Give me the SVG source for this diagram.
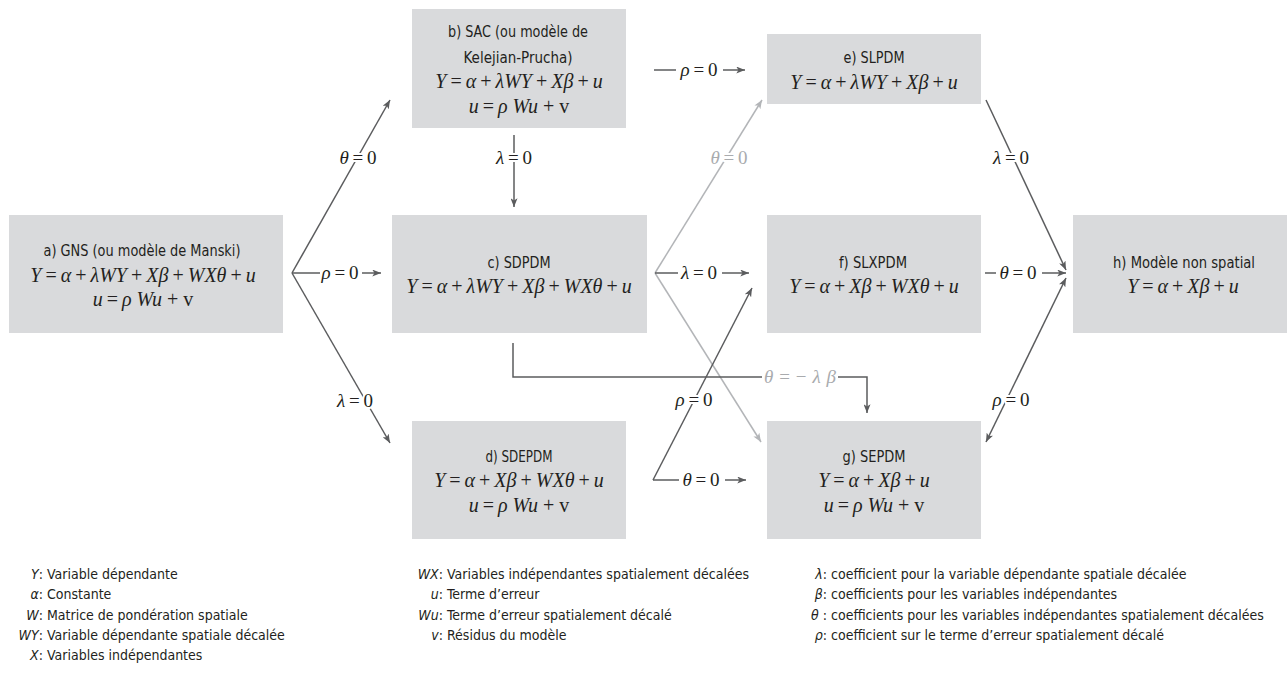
<svg xmlns="http://www.w3.org/2000/svg" width="1287" height="679" viewBox="0 0 1287 679">
<style>
.box{fill:#d9dadc}
.t{font-family:"DejaVu Sans Condensed","Liberation Sans Narrow","Liberation Sans",sans-serif;font-size:15px;fill:#231f20;text-anchor:middle}
.m{font-family:"Liberation Serif","DejaVu Serif",serif;font-size:20px;fill:#231f20;text-anchor:middle}
.i{font-style:italic}
.c{stroke:#5b5c5e;stroke-width:1.5;fill:none}
.cl{stroke:#b3b5b8;stroke-width:1.5;fill:none}
.lb{font-family:"Liberation Serif","DejaVu Serif",serif;font-size:19px;fill:#231f20;text-anchor:middle;stroke:#ffffff;stroke-width:4px;stroke-linejoin:round;paint-order:stroke}
.lbl{fill:#a9abae}
.lg{font-family:"DejaVu Sans Condensed","Liberation Sans Narrow","Liberation Sans",sans-serif;font-size:14px;fill:#231f20}
.s{text-anchor:end}
</style>
<defs>
<marker id="ad" viewBox="0 0 10 8" refX="10" refY="4" markerWidth="9" markerHeight="7" markerUnits="userSpaceOnUse" orient="auto-start-reverse"><path d="M0,0 L10,4 L0,8 L2.5,4 z" fill="#5b5c5e"/></marker>
<marker id="al" viewBox="0 0 10 8" refX="10" refY="4" markerWidth="9" markerHeight="7" markerUnits="userSpaceOnUse" orient="auto-start-reverse"><path d="M0,0 L10,4 L0,8 L2.5,4 z" fill="#b3b5b8"/></marker>
</defs>

<g id="connectors">
  <!-- a -> b -->
  <line class="c" x1="292" y1="273" x2="390" y2="100" marker-end="url(#ad)"/>
  <text class="lb" x="358" y="164"><tspan class="i">θ</tspan>&#8201;=&#8201;0</text>
  <!-- a -> c -->
  <line class="c" x1="292" y1="273" x2="320" y2="273"/>
  <text class="lb" x="340" y="279"><tspan class="i">ρ</tspan>&#8201;=&#8201;0</text>
  <line class="c" x1="362" y1="273" x2="381" y2="273" marker-end="url(#ad)"/>
  <!-- a -> d -->
  <line class="c" x1="292" y1="273" x2="390" y2="443" marker-end="url(#ad)"/>
  <text class="lb" x="355" y="407"><tspan class="i">λ</tspan>&#8201;=&#8201;0</text>
  <!-- b -> e -->
  <line class="c" x1="654" y1="70" x2="676" y2="70"/>
  <text class="lb" x="699" y="76"><tspan class="i">ρ</tspan>&#8201;=&#8201;0</text>
  <line class="c" x1="723" y1="70" x2="745" y2="70" marker-end="url(#ad)"/>
  <!-- b -> c -->
  <line class="c" x1="514" y1="135" x2="514" y2="207" marker-end="url(#ad)"/>
  <text class="lb" x="514" y="164"><tspan class="i">λ</tspan>&#8201;=&#8201;0</text>
  <!-- c -> e (light) -->
  <line class="cl" x1="655" y1="273" x2="762" y2="100" marker-end="url(#al)"/>
  <text class="lb lbl" x="729" y="164"><tspan class="i">θ</tspan>&#8201;=&#8201;0</text>
  <!-- c -> g (light) -->
  <line class="cl" x1="655" y1="273" x2="761" y2="442" marker-end="url(#al)"/>
  <!-- c -> f -->
  <line class="c" x1="655" y1="273" x2="678" y2="273"/>
  <text class="lb" x="699" y="279"><tspan class="i">λ</tspan>&#8201;=&#8201;0</text>
  <line class="c" x1="722" y1="273" x2="749" y2="273" marker-end="url(#ad)"/>
  <!-- c -> g via theta = -lambda beta -->
  <path class="c" d="M513,343 V377 H762"/>
  <text class="lb lbl" x="800" y="383" textLength="72" lengthAdjust="spacing"><tspan class="i">θ</tspan>=−<tspan class="i">λβ</tspan></text>
  <path class="c" d="M838,377 H867 V413" marker-end="url(#ad)"/>
  <!-- d -> f -->
  <line class="c" x1="653" y1="480" x2="752" y2="288" marker-end="url(#ad)"/>
  <text class="lb" x="694" y="406"><tspan class="i">ρ</tspan>&#8201;=&#8201;0</text>
  <!-- d -> g -->
  <line class="c" x1="653" y1="480" x2="679" y2="480"/>
  <text class="lb" x="701" y="486"><tspan class="i">θ</tspan>&#8201;=&#8201;0</text>
  <line class="c" x1="725" y1="480" x2="746" y2="480" marker-end="url(#ad)"/>
  <!-- e -> h -->
  <line class="c" x1="986" y1="100" x2="1066" y2="270" marker-end="url(#ad)"/>
  <text class="lb" x="1011" y="164"><tspan class="i">λ</tspan>&#8201;=&#8201;0</text>
  <!-- f -> h -->
  <line class="c" x1="985" y1="273" x2="996" y2="273"/>
  <text class="lb" x="1018" y="279"><tspan class="i">θ</tspan>&#8201;=&#8201;0</text>
  <line class="c" x1="1042" y1="273" x2="1066" y2="273" marker-end="url(#ad)"/>
  <!-- g <-> h -->
  <line class="c" x1="986" y1="442" x2="1066" y2="278" marker-start="url(#ad)" marker-end="url(#ad)"/>
  <text class="lb" x="1011" y="406"><tspan class="i">ρ</tspan>&#8201;=&#8201;0</text>
</g>

<g id="node-a">
  <rect class="box" x="9" y="215" width="274" height="118"/>
  <text class="t" x="142" y="256" textLength="197" lengthAdjust="spacingAndGlyphs">a) GNS (ou modèle de Manski)</text>
  <text class="m" x="143" y="282"><tspan class="i">Y</tspan>&#8201;=&#8201;<tspan class="i">α</tspan>&#8201;+&#8201;<tspan class="i">λWY</tspan>&#8201;+&#8201;<tspan class="i">Xβ</tspan>&#8201;+&#8201;<tspan class="i">WXθ</tspan>&#8201;+&#8201;<tspan class="i">u</tspan></text>
  <text class="m" x="143" y="306"><tspan class="i">u</tspan>&#8201;=&#8201;<tspan class="i">ρ Wu</tspan> + v</text>
</g>

<g id="node-b">
  <rect class="box" x="412" y="9" width="214" height="119"/>
  <text class="t" x="518" y="37" textLength="140" lengthAdjust="spacingAndGlyphs">b) SAC (ou modèle de</text>
  <text class="t" x="518" y="63" textLength="109" lengthAdjust="spacingAndGlyphs">Kelejian-Prucha)</text>
  <text class="m" x="519" y="88"><tspan class="i">Y</tspan>&#8201;=&#8201;<tspan class="i">α</tspan>&#8201;+&#8201;<tspan class="i">λWY</tspan>&#8201;+&#8201;<tspan class="i">Xβ</tspan>&#8201;+&#8201;<tspan class="i">u</tspan></text>
  <text class="m" x="519" y="113"><tspan class="i">u</tspan>&#8201;=&#8201;<tspan class="i">ρ Wu</tspan> + v</text>
</g>

<g id="node-c">
  <rect class="box" x="392" y="215" width="255" height="118"/>
  <text class="t" x="519" y="268" textLength="63" lengthAdjust="spacingAndGlyphs">c) SDPDM</text>
  <text class="m" x="519" y="293"><tspan class="i">Y</tspan>&#8201;=&#8201;<tspan class="i">α</tspan>&#8201;+&#8201;<tspan class="i">λWY</tspan>&#8201;+&#8201;<tspan class="i">Xβ</tspan>&#8201;+&#8201;<tspan class="i">WXθ</tspan>&#8201;+&#8201;<tspan class="i">u</tspan></text>
</g>

<g id="node-d">
  <rect class="box" x="412" y="421" width="214" height="118"/>
  <text class="t" x="519" y="462" textLength="67" lengthAdjust="spacingAndGlyphs">d) SDEPDM</text>
  <text class="m" x="519" y="487"><tspan class="i">Y</tspan>&#8201;=&#8201;<tspan class="i">α</tspan>&#8201;+&#8201;<tspan class="i">Xβ</tspan>&#8201;+&#8201;<tspan class="i">WXθ</tspan>&#8201;+&#8201;<tspan class="i">u</tspan></text>
  <text class="m" x="519" y="512"><tspan class="i">u</tspan>&#8201;=&#8201;<tspan class="i">ρ Wu</tspan> + v</text>
</g>

<g id="node-e">
  <rect class="box" x="767" y="34" width="214" height="70"/>
  <text class="t" x="874" y="63" textLength="61" lengthAdjust="spacingAndGlyphs">e) SLPDM</text>
  <text class="m" x="874" y="89"><tspan class="i">Y</tspan>&#8201;=&#8201;<tspan class="i">α</tspan>&#8201;+&#8201;<tspan class="i">λWY</tspan>&#8201;+&#8201;<tspan class="i">Xβ</tspan>&#8201;+&#8201;<tspan class="i">u</tspan></text>
</g>

<g id="node-f">
  <rect class="box" x="767" y="215" width="214" height="118"/>
  <text class="t" x="873" y="268" textLength="68" lengthAdjust="spacingAndGlyphs">f) SLXPDM</text>
  <text class="m" x="874" y="293"><tspan class="i">Y</tspan>&#8201;=&#8201;<tspan class="i">α</tspan>&#8201;+&#8201;<tspan class="i">Xβ</tspan>&#8201;+&#8201;<tspan class="i">WXθ</tspan>&#8201;+&#8201;<tspan class="i">u</tspan></text>
</g>

<g id="node-g">
  <rect class="box" x="767" y="421" width="214" height="118"/>
  <text class="t" x="874" y="462" textLength="63" lengthAdjust="spacingAndGlyphs">g) SEPDM</text>
  <text class="m" x="874" y="487"><tspan class="i">Y</tspan>&#8201;=&#8201;<tspan class="i">α</tspan>&#8201;+&#8201;<tspan class="i">Xβ</tspan>&#8201;+&#8201;<tspan class="i">u</tspan></text>
  <text class="m" x="874" y="512"><tspan class="i">u</tspan>&#8201;=&#8201;<tspan class="i">ρ Wu</tspan> + v</text>
</g>

<g id="node-h">
  <rect class="box" x="1073" y="215" width="214" height="118"/>
  <text class="t" x="1184" y="268" textLength="142" lengthAdjust="spacingAndGlyphs">h) Modèle non spatial</text>
  <text class="m" x="1183" y="293"><tspan class="i">Y</tspan>&#8201;=&#8201;<tspan class="i">α</tspan>&#8201;+&#8201;<tspan class="i">Xβ</tspan>&#8201;+&#8201;<tspan class="i">u</tspan></text>
</g>

<g id="legend" class="lg">
  <text class="s" x="43" y="579"><tspan class="i">Y</tspan>:</text>
  <text x="47" y="579">Variable dépendante</text>
  <text class="s" x="43" y="599"><tspan class="i">α</tspan>:</text>
  <text x="47" y="599">Constante</text>
  <text class="s" x="43" y="619.5"><tspan class="i">W</tspan>:</text>
  <text x="47" y="619.5">Matrice de pondération spatiale</text>
  <text class="s" x="43" y="640"><tspan class="i">WY</tspan>:</text>
  <text x="47" y="640">Variable dépendante spatiale décalée</text>
  <text class="s" x="43" y="660"><tspan class="i">X</tspan>:</text>
  <text x="47" y="660">Variables indépendantes</text>

  <text class="s" x="443" y="579"><tspan class="i">WX</tspan>:</text>
  <text x="447" y="579">Variables indépendantes spatialement décalées</text>
  <text class="s" x="443" y="599"><tspan class="i">u</tspan>:</text>
  <text x="447" y="599">Terme d’erreur</text>
  <text class="s" x="443" y="619.5"><tspan class="i">Wu</tspan>:</text>
  <text x="447" y="619.5">Terme d’erreur spatialement décalé</text>
  <text class="s" x="443" y="640"><tspan class="i">v</tspan>:</text>
  <text x="447" y="640">Résidus du modèle</text>

  <text class="s" x="827" y="579"><tspan class="i">λ</tspan>:</text>
  <text x="831" y="579">coefficient pour la variable dépendante spatiale décalée</text>
  <text class="s" x="827" y="599"><tspan class="i">β</tspan>:</text>
  <text x="831" y="599">coefficients pour les variables indépendantes</text>
  <text class="s" x="827" y="619.5"><tspan class="i">θ</tspan> :</text>
  <text x="831" y="619.5">coefficients pour les variables indépendantes spatialement décalées</text>
  <text class="s" x="827" y="640"><tspan class="i">ρ</tspan>:</text>
  <text x="831" y="640">coefficient sur le terme d’erreur spatialement décalé</text>
</g>
</svg>
